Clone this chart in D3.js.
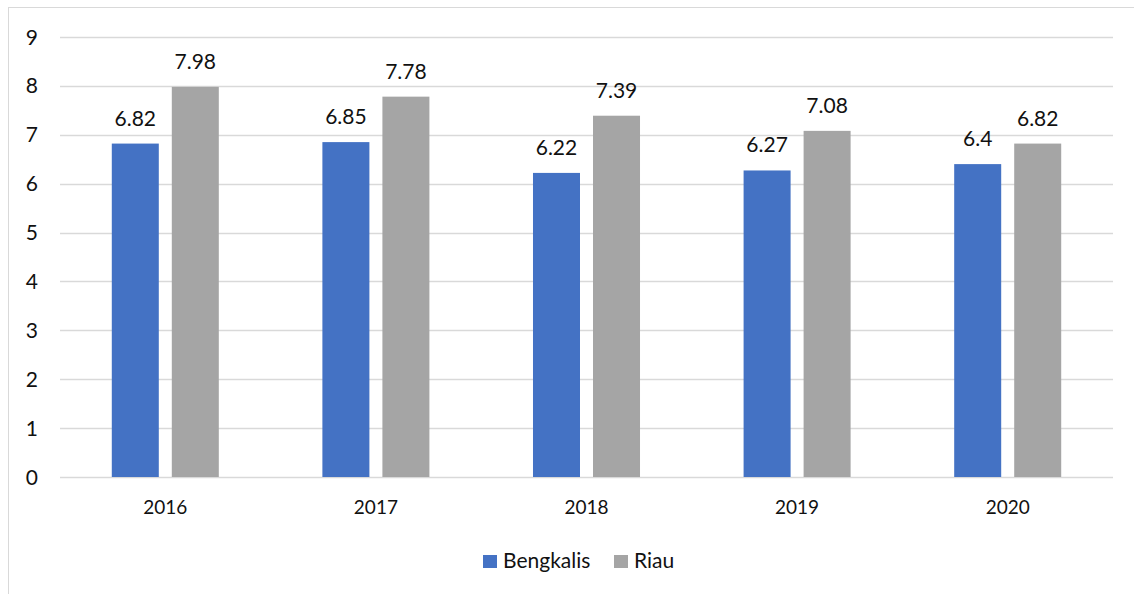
<!DOCTYPE html>
<html>
<head>
<meta charset="utf-8">
<script src="https://cdn.jsdelivr.net/npm/d3@7"></script>
<style>
html,body{margin:0;padding:0;background:#fff;}
svg{display:block;}
text{font-family:Lato,"Open Sans",sans-serif;fill:#111;}
</style>
</head>
<body>
<svg id="chart" width="1134" height="594"></svg>
<script>
const years = ["2016","2017","2018","2019","2020"];
const seriesNames = ["Bengkalis","Riau"];
const bengkalis = [6.82,6.85,6.22,6.27,6.4];
const riau = [7.98,7.78,7.39,7.08,6.82];
const yTicks = [0,1,2,3,4,5,6,7,8,9];
const colors = ["#4472C4","#A5A5A5"];

(function(){
const svg = d3.select("#chart");
svg.append("rect").attr("x",8.5).attr("y",7.5).attr("width",1140).attr("height",600)
  .attr("fill","none").attr("stroke","#D9D9D9").attr("stroke-width",1);

const pLeft = 60, pRight = 1113, pTop = 37, pBottom = 477;
const x = d3.scaleBand().domain(years).range([pLeft,pRight]).padding(0);
const y = d3.scaleLinear().domain([0,9]).range([pBottom,pTop]);
const bw = x.bandwidth();
const inner = d3.scaleBand().domain(seriesNames).range([0,bw]).paddingInner(13/60).paddingOuter(0.863);

svg.append("g").selectAll("line").data(yTicks).join("line")
  .attr("x1",pLeft).attr("x2",pRight)
  .attr("y1",d=>Math.round(y(d))+0.5).attr("y2",d=>Math.round(y(d))+0.5)
  .attr("stroke","#D9D9D9").attr("stroke-width",1.3);

svg.append("g").selectAll("text").data(yTicks).join("text")
  .attr("x",38).attr("y",d=>y(d)).attr("dy","0.36em")
  .attr("text-anchor","end").attr("font-size",21).text(d=>d);

svg.append("g").selectAll("text").data(years).join("text")
  .attr("x",d=>x(d)+bw/2).attr("y",514)
  .attr("text-anchor","middle").attr("font-size",19).text(d=>d);

const data = [bengkalis, riau];
seriesNames.forEach((s,si)=>{
  const g = svg.append("g");
  g.selectAll("rect").data(data[si]).join("rect")
    .attr("x",(d,i)=>x(years[i])+inner(s))
    .attr("width",inner.bandwidth())
    .attr("y",d=>y(d)).attr("height",d=>y(0)-y(d))
    .attr("fill",colors[si]);
  g.selectAll("text").data(data[si]).join("text")
    .attr("x",(d,i)=>x(years[i])+inner(s)+inner.bandwidth()/2)
    .attr("y",d=>y(d)-18)
    .attr("text-anchor","middle").attr("font-size",21)
    .text(d=>String(d));
});

const legend = svg.append("g");
const legendItems = [{name:"Bengkalis",x:483},{name:"Riau",x:614}];
legendItems.forEach((it,i)=>{
  legend.append("rect").attr("x",it.x).attr("y",555).attr("width",14).attr("height",13).attr("fill",colors[i]);
  legend.append("text").attr("x",it.x+20).attr("y",568).attr("font-size",21).text(it.name);
});
})();
</script>
</body>
</html>
